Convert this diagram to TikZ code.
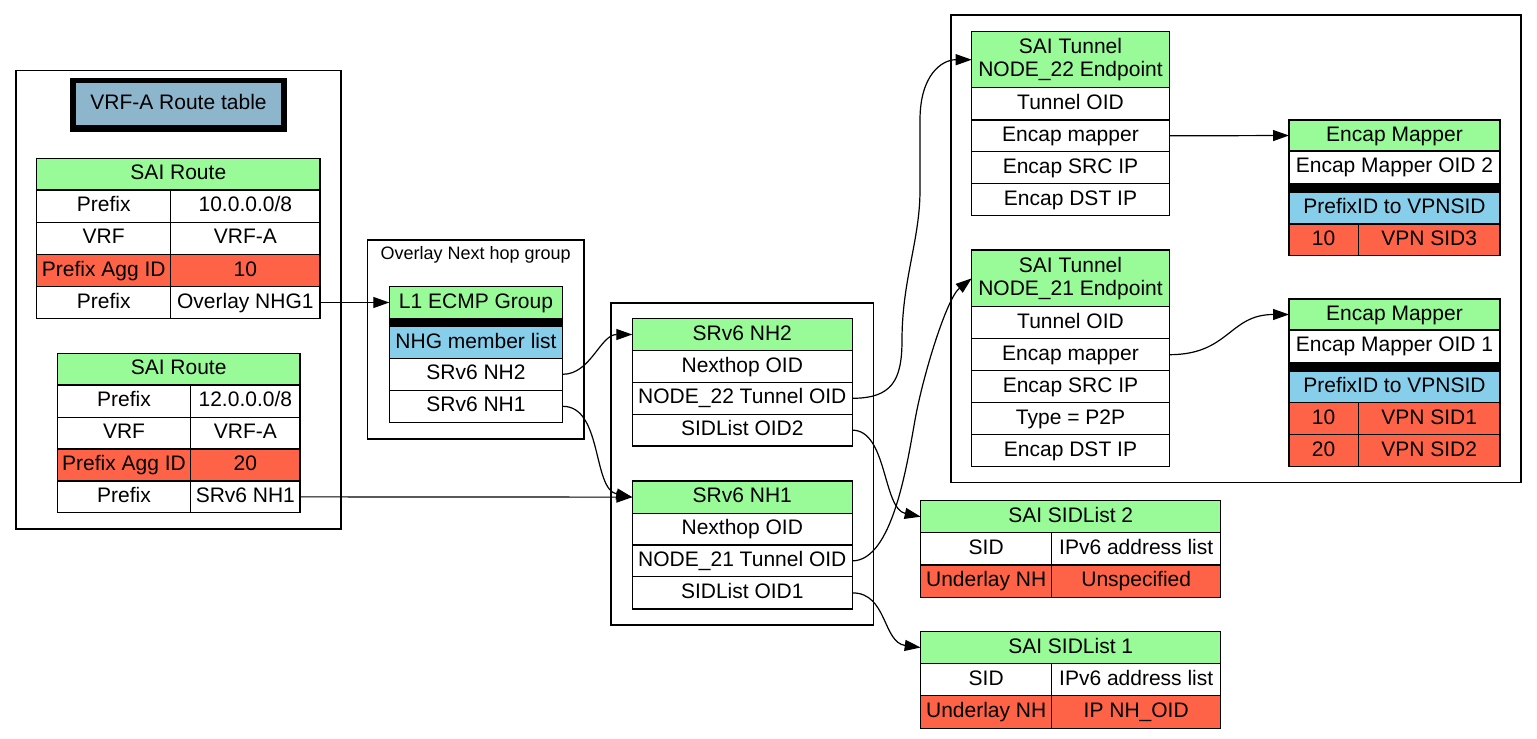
\documentclass[tikz,border=0pt]{standalone}
\usepackage{fontspec}
\setmainfont{Liberation Sans}
\usetikzlibrary{arrows.meta}
\definecolor{pgreen}{HTML}{98FB98}
\definecolor{tomatoc}{HTML}{FF6347}
\definecolor{skyb}{HTML}{87CEEB}
\definecolor{titleb}{HTML}{8DB6CD}
\newcommand{\cellbx}[7]{\node[cellst,fill=#6,minimum width={#4-#2},minimum height={#5-#3}] (#1) at ({(#2+#4)/2},{(#3+#5)/2}) {#7};}
\newcommand{\cellml}[7]{\node[cellbase,fill=#6,minimum width={#4-#2},minimum height={#5-#3}] (#1) at ({(#2+#4)/2},{(#3+#5)/2}) {#7};}
\begin{document}
\begin{tikzpicture}[x=1pt,y=-1pt,
  cellbase/.style={draw=black,line width=1.1pt,inner sep=0pt,outer sep=0pt,align=center,
    font=\fontsize{21}{23}\selectfont},
  cellst/.style={cellbase,text height=15.5pt,text depth=4.5pt},
  clusterst/.style={draw=black,line width=1.3pt},
  edgest/.style={draw=black,line width=1.2pt,-{Triangle[length=16pt,width=11pt]}}]
\useasboundingbox (0,0) rectangle (1537,739);
\fill[white] (0,0) rectangle (1537,739);
% clusters
\draw[clusterst] (16,70.5) rectangle (341,529);
\draw[clusterst] (367.5,240) rectangle (584,439);
\draw[clusterst] (611,303) rectangle (873.5,625);
\draw[clusterst] (951,15) rectangle (1521,482.5);
\node[font=\fontsize{18}{20}\selectfont] (ovlbl) at (475.7,255) {Overlay Next hop group};
% title
\fill[black] (70,78.3) rectangle (287,132.3);
\node[fill=titleb,inner sep=0pt,minimum width=205pt,minimum height=41.4pt,text height=15.5pt,text depth=4.5pt,font=\fontsize{21}{23}\selectfont] (title) at (178.5,104) {VRF-A Route table};
% SAI Route 1
\cellbx{ra}{36.7}{158.3}{320}{190}{pgreen}{SAI Route}
\cellbx{ra1a}{36.7}{190}{170.7}{222.3}{white}{Prefix}
\cellbx{ra1b}{170.7}{190}{320}{222.3}{white}{10.0.0.0/8}
\cellbx{ra2a}{36.7}{222.3}{170.7}{254.3}{white}{VRF}
\cellbx{ra2b}{170.7}{222.3}{320}{254.3}{white}{VRF-A}
\cellbx{ra3a}{36.7}{254.3}{170.7}{286.7}{tomatoc}{Prefix Agg ID}
\cellbx{ra3b}{170.7}{254.3}{320}{286.7}{tomatoc}{10}
\cellbx{ra4a}{36.7}{286.7}{170.7}{318.3}{white}{Prefix}
\cellbx{ranhg}{170.7}{286.7}{320}{318.3}{white}{Overlay NHG1}
% SAI Route 2
\cellbx{rb}{57.3}{353.3}{300}{385}{pgreen}{SAI Route}
\cellbx{rb1a}{57.3}{385}{190.7}{417.3}{white}{Prefix}
\cellbx{rb1b}{190.7}{385}{300}{417.3}{white}{12.0.0.0/8}
\cellbx{rb2a}{57.3}{417.3}{190.7}{449}{white}{VRF}
\cellbx{rb2b}{190.7}{417.3}{300}{449}{white}{VRF-A}
\cellbx{rb3a}{57.3}{449}{190.7}{481}{tomatoc}{Prefix Agg ID}
\cellbx{rb3b}{190.7}{449}{300}{481}{tomatoc}{20}
\cellbx{rb4a}{57.3}{481}{190.7}{512.7}{white}{Prefix}
\cellbx{rbnh}{190.7}{481}{300}{512.7}{white}{SRv6 NH1}
% L1 ECMP group
\cellbx{l1h}{389.3}{286.7}{562.7}{318.3}{pgreen}{L1 ECMP Group}
\node[draw=black,fill=black,line width=1.1pt,inner sep=0pt,minimum width=173.4pt,minimum height=8.4pt] (l1bar) at (476,322.5) {};
\cellbx{l1m}{389.3}{326.7}{562.7}{358.3}{skyb}{NHG member list}
\cellbx{l1nh2}{389.3}{358.3}{562.7}{390.3}{white}{SRv6 NH2}
\cellbx{l1nh1}{389.3}{390.3}{562.7}{422.3}{white}{SRv6 NH1}
% SRv6 NH2
\cellbx{nh2h}{632.3}{318.3}{852.3}{350.7}{pgreen}{SRv6 NH2}
\cellbx{nh2o}{632.3}{350.7}{852.3}{382.3}{white}{Nexthop OID}
\cellbx{nh2tun}{632.3}{382.3}{852.3}{414.3}{white}{NODE\_22 Tunnel OID}
\cellbx{nh2sl}{632.3}{414.3}{852.3}{446}{white}{SIDList OID2}
% SRv6 NH1
\cellbx{nh1h}{632.3}{481}{852.3}{513.3}{pgreen}{SRv6 NH1}
\cellbx{nh1o}{632.3}{513.3}{852.3}{545}{white}{Nexthop OID}
\cellbx{nh1tun}{632.3}{545}{852.3}{576.7}{white}{NODE\_21 Tunnel OID}
\cellbx{nh1sl}{632.3}{576.7}{852.3}{609}{white}{SIDList OID1}
% Tunnel 22
\cellml{t22h}{971.7}{31.7}{1169.3}{87.7}{pgreen}{SAI Tunnel\\NODE\_22 Endpoint}
\cellbx{t22a}{971.7}{87.7}{1169.3}{120}{white}{Tunnel OID}
\cellbx{t22em}{971.7}{120}{1169.3}{151.7}{white}{Encap mapper}
\cellbx{t22c}{971.7}{151.7}{1169.3}{183.3}{white}{Encap SRC IP}
\cellbx{t22d}{971.7}{183.3}{1169.3}{215.7}{white}{Encap DST IP}
% Tunnel 21
\cellml{t21h}{971.7}{250}{1169.3}{306.7}{pgreen}{SAI Tunnel\\NODE\_21 Endpoint}
\cellbx{t21a}{971.7}{306.7}{1169.3}{338.7}{white}{Tunnel OID}
\cellbx{t21em}{971.7}{338.7}{1169.3}{370.7}{white}{Encap mapper}
\cellbx{t21c}{971.7}{370.7}{1169.3}{402.7}{white}{Encap SRC IP}
\cellbx{t21t}{971.7}{402.7}{1169.3}{434.3}{white}{Type = P2P}
\cellbx{t21d}{971.7}{434.3}{1169.3}{466.7}{white}{Encap DST IP}
% Encap Mapper 2
\cellbx{em2h}{1289}{120}{1500}{151}{pgreen}{Encap Mapper}
\cellbx{em2o}{1289}{151}{1500}{183.3}{white}{Encap Mapper OID 2}
\node[draw=black,fill=black,line width=1.1pt,inner sep=0pt,minimum width=211pt,minimum height=9.4pt] (em2bar) at (1394.5,188) {};
\cellbx{em2p}{1289}{192.7}{1500}{224}{skyb}{PrefixID to VPNSID}
\cellbx{em2r1a}{1289}{224}{1358.3}{255.7}{tomatoc}{10}
\cellbx{em2r1b}{1358.3}{224}{1500}{255.7}{tomatoc}{VPN SID3}
% Encap Mapper 1
\cellbx{em1h}{1289}{299}{1500}{330}{pgreen}{Encap Mapper}
\cellbx{em1o}{1289}{330}{1500}{362.3}{white}{Encap Mapper OID 1}
\node[draw=black,fill=black,line width=1.1pt,inner sep=0pt,minimum width=211pt,minimum height=9.4pt] (em1bar) at (1394.5,367) {};
\cellbx{em1p}{1289}{371.7}{1500}{402.7}{skyb}{PrefixID to VPNSID}
\cellbx{em1r1a}{1289}{402.7}{1358.3}{434.3}{tomatoc}{10}
\cellbx{em1r1b}{1358.3}{402.7}{1500}{434.3}{tomatoc}{VPN SID1}
\cellbx{em1r2a}{1289}{434.3}{1358.3}{466.7}{tomatoc}{20}
\cellbx{em1r2b}{1358.3}{434.3}{1500}{466.7}{tomatoc}{VPN SID2}
% SIDList 2
\cellbx{sl2h}{920.7}{500.7}{1220.7}{532.7}{pgreen}{SAI SIDList 2}
\cellbx{sl2a}{920.7}{532.7}{1051.7}{565}{white}{SID}
\cellbx{sl2b}{1051.7}{532.7}{1220.7}{565}{white}{IPv6 address list}
\cellbx{sl2c}{920.7}{565}{1051.7}{597.3}{tomatoc}{Underlay NH}
\cellbx{sl2d}{1051.7}{565}{1220.7}{597.3}{tomatoc}{Unspecified}
% SIDList 1
\cellbx{sl1h}{920.7}{631.7}{1220.7}{663.3}{pgreen}{SAI SIDList 1}
\cellbx{sl1a}{920.7}{663.3}{1051.7}{695.7}{white}{SID}
\cellbx{sl1b}{1051.7}{663.3}{1220.7}{695.7}{white}{IPv6 address list}
\cellbx{sl1c}{920.7}{695.7}{1051.7}{728.3}{tomatoc}{Underlay NH}
\cellbx{sl1d}{1051.7}{695.7}{1220.7}{728.3}{tomatoc}{IP NH\_OID}
% edges
\draw[edgest] (ranhg.east) -- (l1h.west);
\draw[edgest] (rbnh.east) -- (nh1h.west);
\draw[edgest] (l1nh2.east) .. controls +(28,0) and +(-32,0) .. (nh2h.west);
\draw[edgest] (l1nh1.east) .. controls +(40,0) and +(-40,-8) .. (nh1h.west);
\draw[edgest] (nh2tun.east) .. controls +(40,0) and +(0,40) .. (902,340)
   .. controls +(0,-60) and +(0,50) .. (920,190) -- (920,120)
   .. controls +(0,-45) and +(-30,0) .. (t22h.west);
\draw[edgest] (nh1tun.east) .. controls +(40,0) and +(-8,45) .. (915,420)
   .. controls +(8,-45) and +(-25,20) .. (t21h.west);
\draw[edgest] (nh2sl.east) .. controls +(35,0) and +(-38,-8) .. (sl2h.west);
\draw[edgest] (nh1sl.east) .. controls +(35,0) and +(-38,-5) .. (sl1h.west);
\draw[edgest] (t22em.east) -- (em2h.west);
\draw[edgest] (t21em.east) .. controls +(60,0) and +(-60,0) .. (em1h.west);
\end{tikzpicture}
\end{document}
